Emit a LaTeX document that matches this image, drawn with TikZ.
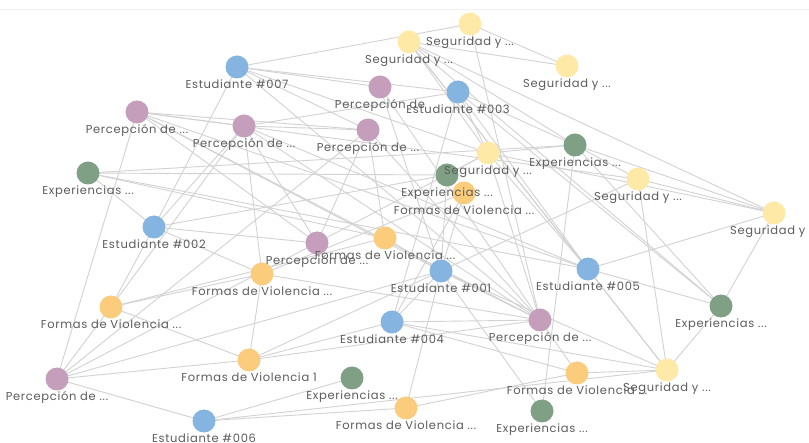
\documentclass[tikz,border=0pt]{standalone}
\usepackage{fontspec}
\newfontfamily\lblfont{Poppins}[LetterSpace=6]
\definecolor{cblue}{RGB}{133,180,224}
\definecolor{cpink}{RGB}{196,158,187}
\definecolor{cgreen}{RGB}{127,160,133}
\definecolor{cyellow}{RGB}{255,233,166}
\definecolor{corange}{RGB}{251,204,124}
\definecolor{edgegray}{RGB}{210,210,210}
\definecolor{lblgray}{RGB}{92,92,92}
\definecolor{topgray}{RGB}{240,240,240}
\begin{document}
\begin{tikzpicture}[x=1pt,y=-1pt,
  nd/.style={circle,minimum size=23pt,inner sep=0pt,draw=none},
  stu/.style={nd,fill=cblue},
  per/.style={nd,fill=cpink},
  exq/.style={nd,fill=cgreen},
  seg/.style={nd,fill=cyellow},
  frm/.style={nd,fill=corange},
  edge/.style={draw=edgegray,line width=0.9pt},
  lbl/.style={font=\lblfont\fontsize{11.5}{13}\selectfont,text=lblgray,anchor=base,inner sep=0pt}]
\useasboundingbox (0,0) rectangle (809,443);
\fill[white] (0,0) rectangle (809,443);
\clip (0,0) rectangle (809,443);
\coordinate (tl) at (0,9); \coordinate (tr) at (809,9);
\draw[topgray,line width=0.8pt] (tl) -- (tr);
% coordinates
\coordinate (s1) at (470,24);
\coordinate (s2) at (409,42);
\coordinate (e7) at (237,67);
\coordinate (s3) at (567,66);
\coordinate (p5) at (380,87);
\coordinate (e3) at (458,92);
\coordinate (p7) at (137,112);
\coordinate (p8) at (244,126);
\coordinate (p9) at (368,130);
\coordinate (x10) at (575,145);
\coordinate (x11) at (88,173);
\coordinate (s12) at (488,153);
\coordinate (x13) at (447,175);
\coordinate (f14) at (464,193);
\coordinate (s15) at (638,179);
\coordinate (s16) at (774,213);
\coordinate (e2) at (154,227);
\coordinate (p18) at (317,243);
\coordinate (f19) at (385,238);
\coordinate (f20) at (262,274);
\coordinate (e1) at (441,271);
\coordinate (e5) at (588,269);
\coordinate (f23) at (111,307);
\coordinate (x24) at (721,306);
\coordinate (e4) at (392,322);
\coordinate (p26) at (540,320);
\coordinate (f27) at (249,360);
\coordinate (s28) at (667,370);
\coordinate (x29) at (352,378);
\coordinate (f30) at (577,373);
\coordinate (p31) at (57,379);
\coordinate (f32) at (406,408);
\coordinate (x33) at (542,411);
\coordinate (e6) at (204,421);
% edges
\foreach \a/\b in {s1/e7,s1/s3,s1/p26,s2/s3,s2/s16,s2/s12,s2/e5,s2/s28,s2/x24,s2/x10,
  e7/p5,e7/e3,e7/e2,e7/p9,e7/s12,e7/p26,p7/p8,p7/p9,p7/p31,p7/p18,p7/e1,p7/p26,p7/e5,p7/s15,
  p8/p9,p8/e2,p8/p18,p8/e5,p8/p26,p8/e3,p8/f23,p5/e1,p5/p26,p9/p26,
  e3/e4,e3/s12,e3/e5,e3/x24,e3/x10,
  x11/x10,x11/x13,x11/e2,x11/e5,x11/f19,e2/x13,e2/p18,e2/f20,e2/f23,
  p31/f23,p31/p9,p31/s12,p31/f27,p31/e6,p31/e1,
  f23/f20,f23/f27,f23/f19,f20/f27,f20/p8,f20/p26,f27/e1,f27/p26,f27/e4,
  e6/x29,e6/s28,e6/f32,e4/p26,e4/s28,e4/e1,e4/f30,f32/e1,f32/f30,
  e1/x33,e1/p26,e1/s15,e1/s28,e1/f19,e1/x13,p26/f30,
  s28/x24,s28/f30,s28/s15,s28/e5,x24/s16,x24/e5,e5/s16,
  s16/s12,s16/s15,s16/x10,s15/x10,x10/x33,x10/s12,x10/x24,s12/e5,s12/p26,
  f19/p9,x13/s12,p18/p9,f14/e4,f14/f20,f14/e1}
  {\draw[edge] (\a) -- (\b);}
% nodes
\node[seg] (n1) at (s1) {};
\node[seg] (n2) at (s2) {};
\node[stu] (n7) at (e7) {};
\node[seg] (n3) at (s3) {};
\node[per] (n5) at (p5) {};
\node[stu] (n3e) at (e3) {};
\node[per] (n7p) at (p7) {};
\node[per] (n8) at (p8) {};
\node[per] (n9) at (p9) {};
\node[exq] (n10) at (x10) {};
\node[exq] (n11) at (x11) {};
\node[seg] (n12) at (s12) {};
\node[exq] (n13) at (x13) {};
\node[frm] (n14) at (f14) {};
\node[seg] (n15) at (s15) {};
\node[seg] (n16) at (s16) {};
\node[stu] (n2e) at (e2) {};
\node[per] (n18) at (p18) {};
\node[frm] (n19) at (f19) {};
\node[frm] (n20) at (f20) {};
\node[stu] (n1e) at (e1) {};
\node[stu] (n5e) at (e5) {};
\node[frm] (n23) at (f23) {};
\node[exq] (n24) at (x24) {};
\node[stu] (n4e) at (e4) {};
\node[per] (n26) at (p26) {};
\node[frm] (n27) at (f27) {};
\node[seg] (n28) at (s28) {};
\node[exq] (n29) at (x29) {};
\node[frm] (n30) at (f30) {};
\node[per] (n31) at (p31) {};
\node[frm] (n32) at (f32) {};
\node[exq] (n33) at (x33) {};
\node[stu] (n6e) at (e6) {};
% labels
\node[lbl] (l1) at ([yshift=-21.5pt]s1) {Seguridad y ...};
\node[lbl] (l2) at ([yshift=-21.5pt]s2) {Seguridad y ...};
\node[lbl] (l7) at ([yshift=-21.5pt]e7) {Estudiante \#007};
\node[lbl] (l3) at ([yshift=-21.5pt]s3) {Seguridad y ...};
\node[lbl] (l5) at ([yshift=-21.5pt]p5) {Percepción de};
\node[lbl] (l3e) at ([yshift=-21.5pt]e3) {Estudiante \#003};
\node[lbl] (l7p) at ([yshift=-21.5pt]p7) {Percepción de ...};
\node[lbl] (l8) at ([yshift=-21.5pt]p8) {Percepción de ...};
\node[lbl] (l9) at ([yshift=-21.5pt]p9) {Percepción de ...};
\node[lbl] (l10) at ([yshift=-21.5pt]x10) {Experiencias ...};
\node[lbl] (l11) at ([yshift=-21.5pt]x11) {Experiencias ...};
\node[lbl] (l12) at ([yshift=-21.5pt]s12) {Seguridad y ...};
\node[lbl] (l13) at ([yshift=-21.5pt]x13) {Experiencias ...};
\node[lbl] (l14) at ([yshift=-21.5pt]f14) {Formas de Violencia ...};
\node[lbl] (l15) at ([yshift=-21.5pt]s15) {Seguridad y ...};
\node[lbl] (l16) at ([yshift=-21.5pt]s16) {Seguridad y ...};
\node[lbl] (l2e) at ([yshift=-21.5pt]e2) {Estudiante \#002};
\node[lbl] (l18) at ([yshift=-21.5pt]p18) {Percepción de ...};
\node[lbl] (l19) at ([yshift=-21.5pt]f19) {Formas de Violencia ...};
\node[lbl] (l20) at ([yshift=-21.5pt]f20) {Formas de Violencia ...};
\node[lbl] (l1e) at ([yshift=-21.5pt]e1) {Estudiante \#001};
\node[lbl] (l5e) at ([yshift=-21.5pt]e5) {Estudiante \#005};
\node[lbl] (l23) at ([yshift=-21.5pt]f23) {Formas de Violencia ...};
\node[lbl] (l24) at ([yshift=-21.5pt]x24) {Experiencias ...};
\node[lbl] (l4e) at ([yshift=-21.5pt]e4) {Estudiante \#004};
\node[lbl] (l26) at ([yshift=-21.5pt]p26) {Percepción de ...};
\node[lbl] (l27) at ([yshift=-21.5pt]f27) {Formas de Violencia 1};
\node[lbl] (l28) at ([yshift=-21.5pt]s28) {Seguridad y ...};
\node[lbl] (l29) at ([yshift=-21.5pt]x29) {Experiencias ...};
\node[lbl] (l30) at ([yshift=-21.5pt]f30) {Formas de Violencia ...};
\node[lbl] (l31) at ([yshift=-21.5pt]p31) {Percepción de ...};
\node[lbl] (l32) at ([yshift=-21.5pt]f32) {Formas de Violencia ...};
\node[lbl] (l33) at ([yshift=-21.5pt]x33) {Experiencias ...};
\node[lbl] (l6e) at ([yshift=-21.5pt]e6) {Estudiante \#006};
\end{tikzpicture}
\end{document}
